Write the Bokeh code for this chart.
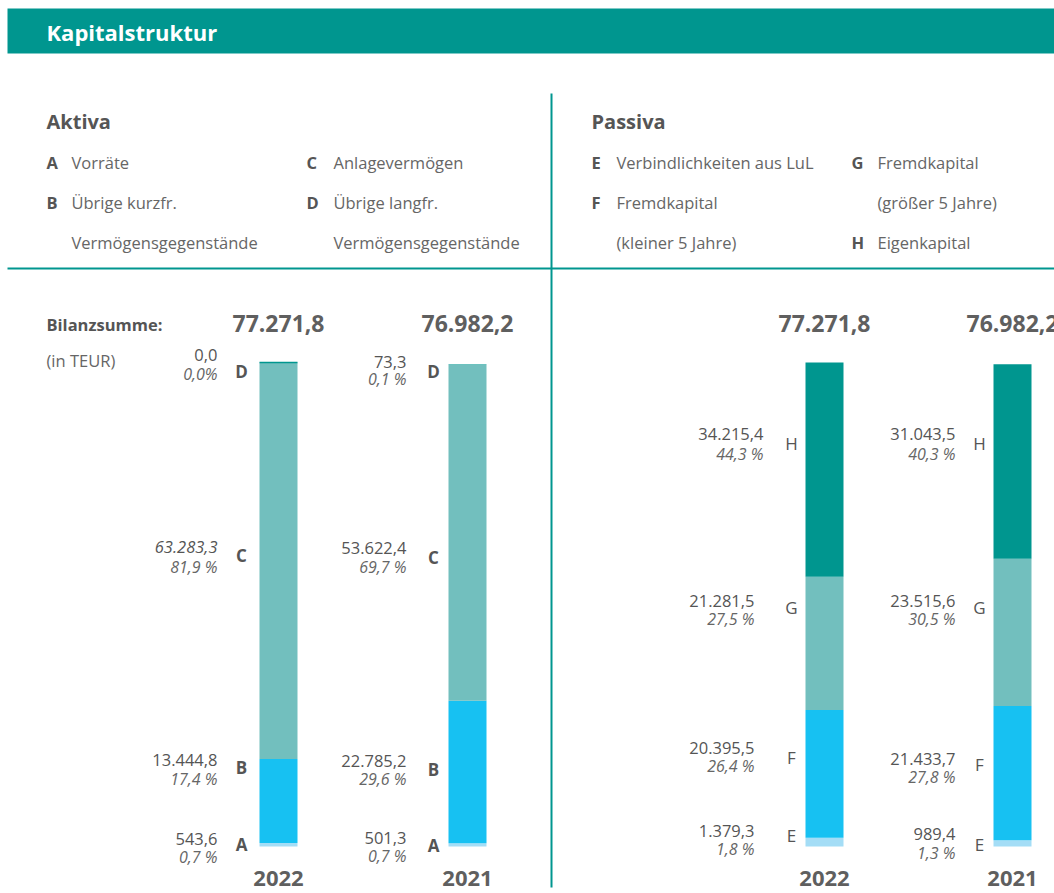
import numpy as np
from bokeh.plotting import figure
from bokeh.models import Range1d, ColumnDataSource
from bokeh.core.properties import value
from bokeh.embed import file_html
from bokeh.resources import INLINE

# ---------------- data ----------------
years = ["2022", "2021"]
total_labels = ["77.271,8", "76.982,2"]

aktiva_letters = ["A", "B", "C", "D"]
aktiva_2022 = [543.6, 13444.8, 63283.3, 0.0]
aktiva_2021 = [501.3, 22785.2, 53622.4, 73.3]
aktiva_pct_2022 = ["0,7 %", "17,4 %", "81,9 %", "0,0%"]
aktiva_pct_2021 = ["0,7 %", "29,6 %", "69,7 %", "0,1 %"]

passiva_letters = ["E", "F", "G", "H"]
passiva_2022 = [1379.3, 20395.5, 21281.5, 34215.4]
passiva_2021 = [989.4, 21433.7, 23515.6, 31043.5]
passiva_pct_2022 = ["1,8 %", "26,4 %", "27,5 %", "44,3 %"]
passiva_pct_2021 = ["1,3 %", "27,8 %", "30,5 %", "40,3 %"]

aktiva_legend = [("A", "Vorräte"), ("B", "Übrige kurzfr.\nVermögensgegenstände"),
                 ("C", "Anlagevermögen"), ("D", "Übrige langfr.\nVermögensgegenstände")]
passiva_legend = [("E", "Verbindlichkeiten aus LuL"), ("F", "Fremdkapital\n(kleiner 5 Jahre)"),
                  ("G", "Fremdkapital\n(größer 5 Jahre)"), ("H", "Eigenkapital")]


def de(v):
    return f"{v:,.1f}".replace(",", "X").replace(".", ",").replace("X", ".")


# ---------------- styling / layout ----------------
W, H = 1054, 893
TEAL = "#00968F"
LTEAL = "#72BFBE"
CYAN = "#17C1F2"
LBLUE = "#A4DDF6"
SEG_COLORS = [LBLUE, CYAN, LTEAL, TEAL]
DARK = "#555555"
MID = "#5f5f5f"
LIGHT = "#666666"
FONT = value("Open Sans")
BASE = 846.0
K = 484.0 / 77271.8  # px per TEUR
BAR_W = 38

p = figure(width=W, height=H, x_range=Range1d(0, W), y_range=Range1d(H, 0),
           x_axis_type=None, y_axis_type=None, output_backend="svg",
           toolbar_location=None, min_border=0)
p.extra_y_ranges = {"val": Range1d(-(H - BASE) / K, BASE / K)}
p.outline_line_color = None
p.background_fill_color = "white"
p.border_fill_color = "white"


def txt(x, y, t, size, style="normal", color=DARK, align="left"):
    p.text(x=[x], y=[y], text=[t], text_font=FONT, text_font_size=value(f"{size}px"),
           text_font_style=style, text_color=color, text_align=align,
           text_baseline="middle")


# header
p.quad(left=[7], right=[W], top=[8], bottom=[53], fill_color=TEAL, line_color=None)
txt(46, 31, "Kapitalstruktur", 22, "bold", "white")

# separators
p.segment(x0=[551], y0=[93], x1=[551], y1=[887], line_color=TEAL, line_width=2)
p.segment(x0=[7], y0=[268], x1=[W], y1=[268], line_color=TEAL, line_width=2)

# legends
txt(46, 121, "Aktiva", 20, "bold")
txt(591, 121, "Passiva", 20, "bold")
leg_pos = {"A": (46, 71, 162), "B": (46, 71, 202), "C": (306, 333, 162), "D": (306, 333, 202),
           "E": (591, 616, 162), "F": (591, 616, 202), "G": (851, 877, 162), "H": (851, 877, 242)}
for letter, label in aktiva_legend + passiva_legend:
    lx, tx, ly = leg_pos[letter]
    txt(lx, ly, letter, 16.5, "bold", DARK)
    lines = label.split("\n")
    if letter == "H":
        txt(tx, ly, lines[0], 16.5, "normal", LIGHT)
    else:
        for i, ln in enumerate(lines):
            txt(tx, ly + 40 * i, ln, 16.5, "normal", LIGHT)

# Bilanzsumme
txt(46, 324, "Bilanzsumme:", 16.5, "bold", DARK)
txt(46, 360, "(in TEUR)", 16.5, "normal", LIGHT)

# bars
bars = [
    dict(vals=aktiva_2022, pcts=aktiva_pct_2022, letters=aktiva_letters, year=years[0], total=total_labels[0],
         left=259, val_x=[217] * 4, let_x=241,
         val_y=[838, 759, 546, 354], pct_y=[856, 778, 566, 373], let_y=[844, 767, 555, 371],
         ital=[False, False, True, False], let_style="bold"),
    dict(vals=aktiva_2021, pcts=aktiva_pct_2021, letters=aktiva_letters, year=years[1], total=total_labels[1],
         left=448, val_x=[406] * 4, let_x=433,
         val_y=[837, 760, 547, 361], pct_y=[855, 778, 566, 378], let_y=[845, 769, 557, 371],
         ital=[False] * 4, let_style="bold"),
    dict(vals=passiva_2022, pcts=passiva_pct_2022, letters=passiva_letters, year=years[0], total=total_labels[0],
         left=805, val_x=[754, 754, 754, 763], let_x=791,
         val_y=[830, 747, 600, 433], pct_y=[848, 765, 618, 453], let_y=[835, 757, 607, 443],
         ital=[False] * 4, let_style="normal"),
    dict(vals=passiva_2021, pcts=passiva_pct_2021, letters=passiva_letters, year=years[1], total=total_labels[1],
         left=993, val_x=[955] * 4, let_x=979,
         val_y=[833, 758, 600, 433], pct_y=[852, 776, 618, 453], let_y=[844, 764, 607, 443],
         ital=[False] * 4, let_style="normal"),
]

for b in bars:
    vals = np.array(b["vals"])
    tops = np.cumsum(vals)
    bottoms = tops - vals
    src = ColumnDataSource(dict(
        left=[b["left"]] * 4, right=[b["left"] + BAR_W] * 4,
        bottom=bottoms, top=tops, color=SEG_COLORS,
        la=[1.0 if v == 0 else 0.0 for v in vals]))
    p.quad(left="left", right="right", bottom="bottom", top="top", fill_color="color",
           line_color="color", line_alpha="la", line_width=1.5, y_range_name="val", source=src)

    cx = b["left"] + BAR_W / 2
    txt(cx, 323, b["total"], 23, "bold", MID, "center")
    txt(cx, 878, b["year"], 22, "bold", MID, "center")

    for i in range(4):
        txt(b["val_x"][i], b["val_y"][i], de(b["vals"][i]), 16.5,
            "italic" if b["ital"][i] else "normal", DARK, "right")
        txt(b["val_x"][i], b["pct_y"][i], b["pcts"][i], 16, "italic", LIGHT, "right")
        txt(b["let_x"], b["let_y"][i], b["letters"][i], 17, b["let_style"], DARK, "center")

open("out.html", "w").write(file_html(p, INLINE))
